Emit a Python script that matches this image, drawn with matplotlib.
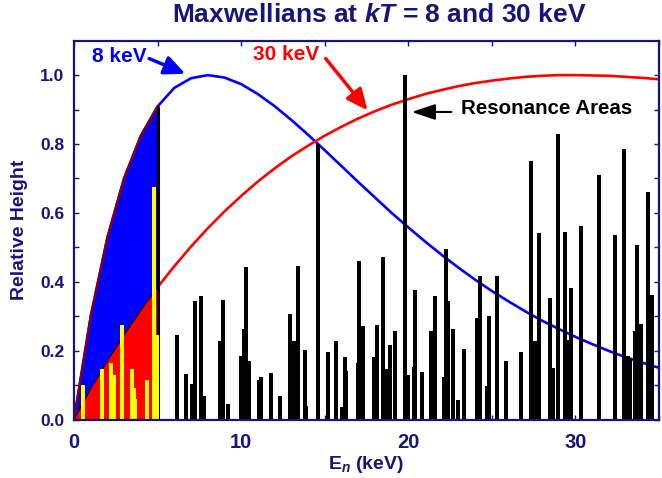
import numpy as np
import matplotlib
matplotlib.use("Agg")
import matplotlib.pyplot as plt

plt.rcParams['font.family'] = ['Liberation Sans', 'DejaVu Sans']
plt.rcParams['mathtext.fontset'] = 'custom'
plt.rcParams['mathtext.it'] = 'Liberation Sans:italic:bold'
plt.rcParams['mathtext.rm'] = 'Liberation Sans:bold'
plt.rcParams['mathtext.bf'] = 'Liberation Sans:bold'

# ---- data ----
energy = list(range(0, 36))  # keV grid of the curves
max8 = [0.000, 0.300, 0.529, 0.701, 0.824, 0.909, 0.963, 0.991, 1.000, 0.993,
        0.974, 0.945, 0.910, 0.870, 0.827, 0.782, 0.736, 0.690, 0.645, 0.600,
        0.558, 0.517, 0.478, 0.441, 0.406, 0.373, 0.343, 0.314, 0.287, 0.263,
        0.240, 0.219, 0.199, 0.181, 0.165, 0.150]
max30 = [0.000, 0.088, 0.170, 0.246, 0.317, 0.384, 0.445, 0.502, 0.555, 0.604,
         0.649, 0.691, 0.729, 0.764, 0.795, 0.824, 0.850, 0.874, 0.895, 0.914,
         0.930, 0.945, 0.957, 0.968, 0.977, 0.984, 0.990, 0.995, 0.998, 1.000,
         1.000, 0.999, 0.998, 0.995, 0.992, 0.988]
fill_end = 5  # keV, shaded range of the two Maxwellians

yellow_e = [0.52, 1.67, 2.21, 2.39, 2.86, 3.46, 3.58, 3.62, 4.35, 4.77, 4.95]
yellow_h = [0.099, 0.147, 0.163, 0.130, 0.273, 0.147, 0.092, 0.060, 0.116, 0.674, 0.244]

res_e = [6.17, 6.69, 7.05, 7.25, 7.58, 7.78, 8.75, 8.92, 9.21, 9.99,
         10.15, 10.27, 10.47, 11.04, 11.18, 11.76, 12.31, 12.91, 13.19, 13.39,
         13.80, 13.88, 14.58, 15.21, 15.65, 16.03, 16.19, 16.27, 16.98, 17.08,
         17.30, 17.94, 18.10, 18.50, 18.69, 18.91, 19.23, 19.83, 19.99, 20.32,
         20.42, 20.82, 21.36, 21.60, 22.11, 22.27, 22.37, 22.67, 22.97, 23.33,
         24.14, 24.28, 24.70, 24.82, 25.30, 25.83, 26.72, 27.32, 27.60, 27.80,
         28.49, 28.67, 28.95, 29.35, 29.59, 29.71, 30.36, 31.40, 32.39, 32.90,
         33.14, 33.28, 33.54, 33.66, 33.94, 34.32, 34.60]
res_h = [0.245, 0.132, 0.103, 0.344, 0.358, 0.069, 0.228, 0.347, 0.045, 0.184,
         0.263, 0.443, 0.170, 0.115, 0.123, 0.135, 0.069, 0.307, 0.229, 0.447,
         0.202, 0.040, 0.800, 0.196, 0.228, 0.037, 0.181, 0.141, 0.165, 0.461,
         0.271, 0.182, 0.274, 0.472, 0.147, 0.216, 0.257, 1.000, 0.130, 0.152,
         0.376, 0.138, 0.257, 0.358, 0.123, 0.495, 0.344, 0.263, 0.057, 0.205,
         0.296, 0.417, 0.098, 0.300, 0.417, 0.170, 0.196, 0.750, 0.229, 0.541,
         0.353, 0.149, 0.829, 0.544, 0.231, 0.382, 0.562, 0.710, 0.536, 0.785,
         0.185, 0.178, 0.257, 0.506, 0.277, 0.660, 0.361]

navy = '#15157a'

fig = plt.figure(figsize=(6.62, 4.78), dpi=100)
ax = fig.add_axes([74/662, 1 - 419.5/478, 585/662, 378.8/478])

E = np.array(energy, dtype=float)
b8 = np.array(max8)
r30 = np.array(max30)
n = energy.index(fill_end) + 1

# curves
ax.plot(E, b8, color='#0000ff', lw=1.9, zorder=2)
ax.plot(E, r30, color='#ff0000', lw=1.9, zorder=2)

# shaded regions up to 5 keV
ax.fill_between(E[:n], r30[:n], b8[:n], facecolor='#0000ff', edgecolor='none', zorder=3)
ax.fill_between(E[:n], 0, r30[:n], facecolor='#ff0000', edgecolor='none', zorder=3)
ax.plot(E[:n], b8[:n], color='#8a0000', lw=1.6, zorder=4)
ax.plot(E[:n], r30[:n], color='black', lw=0.8, zorder=4)
ax.vlines(E[n-1], 0, b8[n-1], color='black', lw=2.2, zorder=4)

# bars
ax.bar(yellow_e, yellow_h, width=0.25, color='#ffff00', zorder=5, linewidth=0)
ax.bar(res_e, res_h, width=0.24, color='black', zorder=5, linewidth=0)

ax.set_xlim(0, 35)
ax.set_ylim(0, 1.1)
ax.set_xticks([0, 10, 20, 30])
ax.set_xticks([5, 15, 25, 35], minor=True)
ax.set_yticks([0.0, 0.2, 0.4, 0.6, 0.8, 1.0])
ax.set_yticks([0.1, 0.3, 0.5, 0.7, 0.9], minor=True)
ax.set_yticklabels(['0.0', '0.2', '0.4', '0.6', '0.8', '1.0'])

for s in ax.spines.values():
    s.set_color(navy)
    s.set_linewidth(1.6)
    s.set_zorder(6)

ax.tick_params(which='both', direction='in', top=True, right=True,
               color=navy, length=3.6, width=1.0)
ax.tick_params(axis='x', which='major', labelsize=14.5, labelcolor=navy, pad=9.5)
ax.tick_params(axis='y', which='major', labelsize=12.5, labelcolor=navy, pad=7)
for lab in ax.get_xticklabels() + ax.get_yticklabels():
    lab.set_fontweight('bold')

ax.set_xlabel('E$_n$ (keV)', fontsize=14, fontweight='bold', color=navy)
ax.xaxis.set_label_coords(0.5, -(454 - 419.5) / 378.8)
ax.set_ylabel('Relative Height', fontsize=14, fontweight='bold', color=navy)
ax.yaxis.set_label_coords(-(74 - 28) / 585, 0.5)

fig.text(379/662, 1 - 15/478, 'Maxwellians at $kT$ = 8 and 30 keV',
         ha='center', va='center', fontsize=19, fontweight='bold', color=navy)

# annotations
ax.text(2.7, 1.054, '8 keV', color='#0000ff', fontsize=15, fontweight='bold',
        ha='center', va='center', zorder=7)
ax.annotate('', xy=(6.66, 1.004), xytext=(4.5, 1.048),
            arrowprops=dict(arrowstyle='-|>,head_length=0.7,head_width=0.32',
                            color='#0000ff', lw=2.5, mutation_scale=18,
                            shrinkA=0, shrinkB=0), zorder=7)
ax.text(12.69, 1.059, '30 keV', color='#ff0000', fontsize=15, fontweight='bold',
        ha='center', va='center', zorder=7)
ax.annotate('', xy=(17.56, 0.898), xytext=(15.06, 1.048),
            arrowprops=dict(arrowstyle='-|>,head_length=0.7,head_width=0.32',
                            color='#ff0000', lw=2.5, mutation_scale=18,
                            shrinkA=0, shrinkB=0), zorder=7)
ax.text(23.18, 0.904, 'Resonance Areas', color='black', fontsize=14.8, fontweight='bold',
        ha='left', va='center', zorder=7)
ax.annotate('', xy=(20.2, 0.893), xytext=(22.58, 0.893),
            arrowprops=dict(arrowstyle='-|>,head_length=0.9,head_width=0.3',
                            color='black', lw=1.5, mutation_scale=16,
                            shrinkA=0, shrinkB=0), zorder=7)

fig.savefig('out.png', dpi=100)
